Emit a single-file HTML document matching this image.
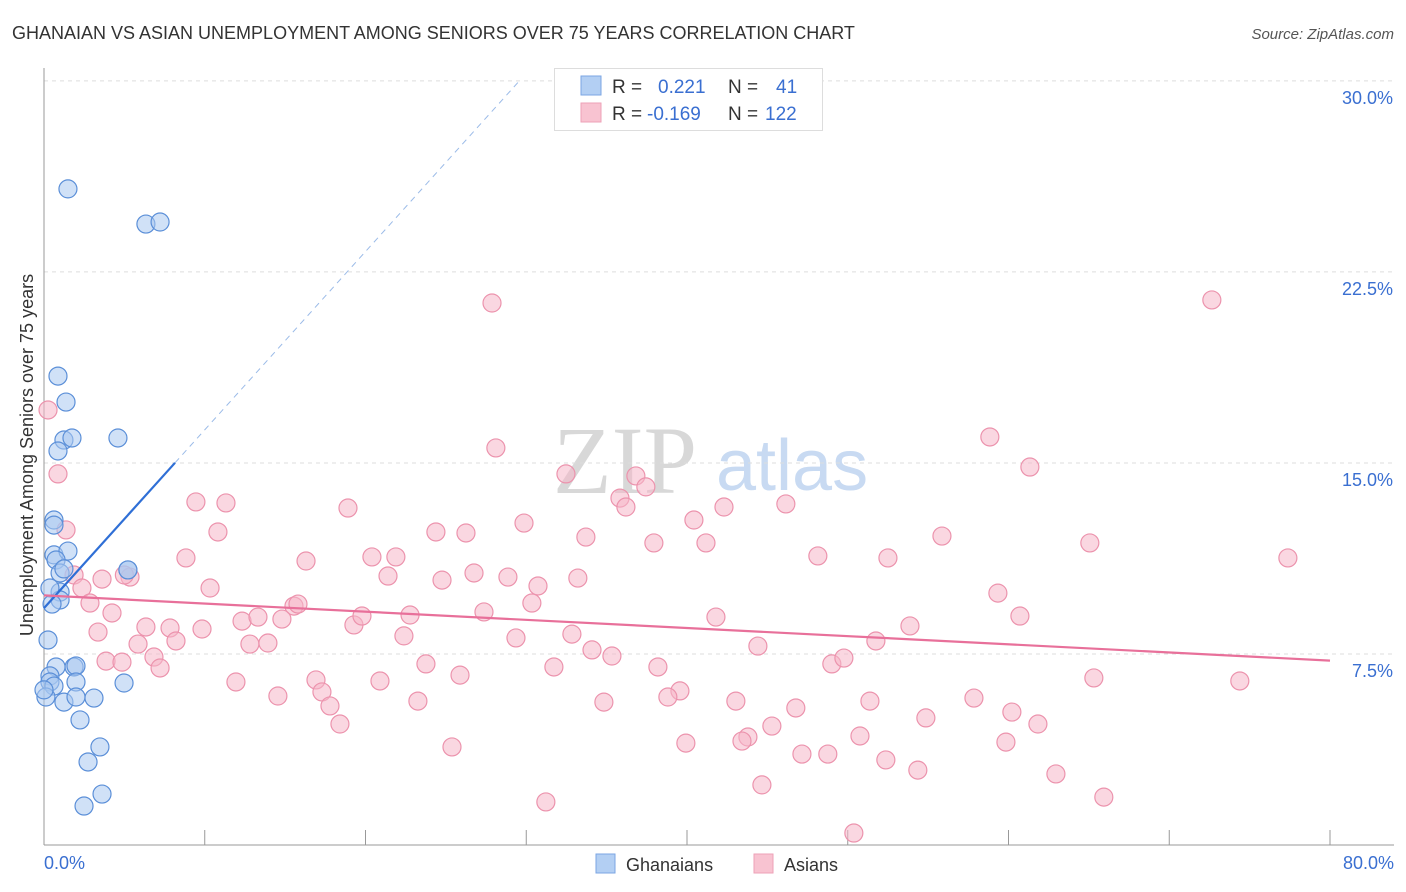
<!DOCTYPE html>
<html><head><meta charset="utf-8"><style>
body{margin:0;background:#fff;font-family:"Liberation Sans",sans-serif}
svg{display:block}
</style></head><body>
<svg id="chart" width="1406" height="892" xmlns="http://www.w3.org/2000/svg">
<text x="12" y="39" font-size="18" fill="#333">GHANAIAN VS ASIAN UNEMPLOYMENT AMONG SENIORS OVER 75 YEARS CORRELATION CHART</text>
<text x="1394" y="39" font-size="15" fill="#555" font-style="italic" text-anchor="end">Source: ZipAtlas.com</text>
<g>
<text x="553" y="493" font-size="96" font-family="Liberation Serif" fill="#d8d8d8">ZIP</text>
<text x="716" y="490" font-size="72" fill="#c8daf2">atlas</text>
</g>
<g id="grid"></g>
<g id="axes"></g>
<g id="marks"></g>
<text transform="translate(33,455) rotate(-90)" font-size="18" fill="#333" text-anchor="middle">Unemployment Among Seniors over 75 years</text>
<text x="44" y="869" font-size="18" fill="#3a6fd1">0.0%</text>
<text x="1394" y="869" font-size="18" fill="#3a6fd1" text-anchor="end">80.0%</text>
<g>
<rect x="554.5" y="68.5" width="268" height="62" fill="#fff" stroke="#ddd"/>
<rect x="581" y="76" width="20" height="19" fill="#b3cff3" stroke="#7ba6e3"/>
<rect x="581" y="103" width="20" height="19" fill="#f8c3d1" stroke="#eea2b7"/>
<text x="612" y="93" font-size="19" fill="#333">R =</text>
<text x="658" y="93" font-size="19" fill="#3a6fd1">0.221</text>
<text x="728" y="93" font-size="19" fill="#333">N =</text>
<text x="776" y="93" font-size="19" fill="#3a6fd1">41</text>
<text x="612" y="120" font-size="19" fill="#333">R =</text>
<text x="647" y="120" font-size="19" fill="#3a6fd1">-0.169</text>
<text x="728" y="120" font-size="19" fill="#333">N =</text>
<text x="765" y="120" font-size="19" fill="#3a6fd1">122</text>
</g>
<g>
<rect x="596" y="854" width="19" height="19" fill="#b3cff3" stroke="#7ba6e3"/>
<text x="626" y="871" font-size="18" fill="#333">Ghanaians</text>
<rect x="754" y="854" width="19" height="19" fill="#f8c3d1" stroke="#eea2b7"/>
<text x="784" y="871" font-size="18" fill="#333">Asians</text>
</g>
</svg>
<script>
const yTicks=[7.5,15,22.5,30];
const yTickLabels=["7.5%","15.0%","22.5%","30.0%"];
const xTickValues=[0,10,20,30,40,50,60,70,80];
const blueX=[1.49,6.34,7.22,0.87,1.37,4.60,1.24,1.74,0.87,0.62,0.62,0.62,1.49,0.75,1.00,1.24,5.22,5.22,1.00,1.00,0.37,0.25,0.75,1.87,1.99,0.37,0.37,0.62,1.99,4.98,0.12,1.24,1.99,3.11,2.24,3.48,2.74,2.49,3.61,0.0,0.5];
const blueY=[25.76,24.38,24.46,18.41,17.39,15.98,15.90,15.98,15.47,12.76,12.56,11.39,11.54,11.19,10.68,10.84,10.80,10.80,9.93,9.62,10.09,8.05,6.99,6.99,7.03,6.64,6.40,6.24,6.40,6.36,5.81,5.61,5.81,5.77,4.91,3.85,3.26,1.53,2.00,6.09,9.46];
const pinkX=[27.87,72.65,0.25,0.87,1.37,28.11,58.84,61.33,32.47,36.82,37.44,35.83,36.20,9.45,11.32,18.91,10.82,29.86,24.38,26.25,40.43,42.30,46.15,33.71,37.94,41.18,55.86,65.06,77.38,8.83,16.30,20.40,21.89,48.14,52.50,1.87,3.61,5.35,21.40,24.76,26.75,28.86,30.73,33.21,2.36,10.33,2.86,4.23,15.55,15.80,22.77,27.37,30.35,59.34,60.71,3.36,6.34,7.84,9.83,12.32,13.31,14.80,19.28,19.78,22.39,29.36,32.84,41.80,53.87,8.21,5.85,12.81,13.93,34.09,35.33,44.41,51.75,3.86,4.85,6.84,7.22,23.76,31.72,38.19,49.01,49.76,16.92,17.29,20.90,25.88,11.94,14.55,39.56,38.81,43.04,46.77,51.38,57.85,65.31,74.39,17.79,23.26,34.83,54.86,60.21,61.83,18.41,45.28,43.79,43.42,50.76,25.38,39.93,59.84,47.15,48.76,52.37,54.36,62.95,44.66,31.22,65.93,50.38,5.0];
const pinkY=[21.28,21.40,17.08,14.57,12.37,15.59,16.02,14.84,14.57,14.49,14.06,13.62,13.27,13.47,13.43,13.23,12.29,12.64,12.29,12.25,12.76,13.27,13.39,12.09,11.86,11.86,12.13,11.86,11.27,11.27,11.15,11.31,11.31,11.35,11.27,10.60,10.44,10.52,10.56,10.40,10.68,10.52,10.17,10.48,10.09,10.09,9.50,9.11,9.38,9.46,9.03,9.15,9.50,9.89,8.99,8.36,8.56,8.52,8.48,8.79,8.95,8.87,8.64,8.99,8.21,8.13,8.28,8.95,8.60,8.01,7.89,7.89,7.93,7.66,7.42,7.81,8.01,7.22,7.18,7.38,6.95,7.11,6.99,6.99,7.11,7.34,6.48,6.01,6.44,6.67,6.40,5.85,6.05,5.81,5.65,5.38,5.65,5.77,6.56,6.44,5.46,5.65,5.61,4.99,5.22,4.75,4.75,4.67,4.24,4.08,4.28,3.85,4.00,4.04,3.57,3.57,3.34,2.94,2.79,2.36,1.69,1.88,0.47,10.6];
const blueTrend=[9.3,0.70];
const pinkTrend=[9.8,-0.032];
const NS="http://www.w3.org/2000/svg";
const X0=44,X1=1330,Y0=845,PX_PER_PCT=25.47;
function sx(v){return X0+(X1-X0)*v/80;}
function sy(v){return Y0-v*PX_PER_PCT;}
function mk(tag,attrs,parent){const e=document.createElementNS(NS,tag);for(const k in attrs)e.setAttribute(k,attrs[k]);parent.appendChild(e);return e;}
const grid=document.getElementById('grid'),axes=document.getElementById('axes'),marks=document.getElementById('marks');
yTicks.forEach((t,i)=>{
 const l=mk('line',{x1:44,x2:1394,y1:sy(t),y2:sy(t),stroke:'#ddd','stroke-dasharray':'4,4'},grid);
 
 
 const tx=mk('text',{x:1393,y:sy(t)+23,'font-size':18,fill:'#3a6fd1','text-anchor':'end'},grid);
 tx.textContent=yTickLabels[i];
 
 
});
const ya=mk('line',{x1:44,x2:44,y1:68,y2:Y0,stroke:'#999'},axes);


const xa=mk('line',{x1:44,x2:1394,y1:Y0,y2:Y0,stroke:'#999'},axes);


xTickValues.forEach(v=>{
 const t=mk('line',{x1:sx(v),x2:sx(v),y1:830,y2:Y0,stroke:'#999'},axes);
 
 
});
function dot(x,y,fill,stroke,name){
 const c=mk('circle',{cx:sx(x),cy:sy(y),r:9,fill:fill,'fill-opacity':0.55,stroke:stroke,'stroke-width':1.2},marks);
 
 
}
pinkX.forEach((x,i)=>dot(x,pinkY[i],'#f6b6c8','#ec93ad','asians-point'));
blueX.forEach((x,i)=>dot(x,blueY[i],'#a9c8f0','#5b8fd8','ghanaians-point'));
const bEnd=8.15, bDashEnd=(30-blueTrend[0])/blueTrend[1];
const bl=mk('line',{x1:sx(0),y1:sy(blueTrend[0]),x2:sx(bEnd),y2:sy(blueTrend[0]+blueTrend[1]*bEnd),stroke:'#2f6fd6','stroke-width':2.2},marks);


const bd=mk('line',{x1:sx(bEnd),y1:sy(blueTrend[0]+blueTrend[1]*bEnd),x2:sx(bDashEnd),y2:sy(30),stroke:'#9bbbe8','stroke-width':1,'stroke-dasharray':'6,5'},marks);


const pl=mk('line',{x1:sx(0),y1:sy(pinkTrend[0]),x2:sx(80),y2:sy(pinkTrend[0]+pinkTrend[1]*80),stroke:'#e8709a','stroke-width':2.2},marks);


</script>
</body></html>
